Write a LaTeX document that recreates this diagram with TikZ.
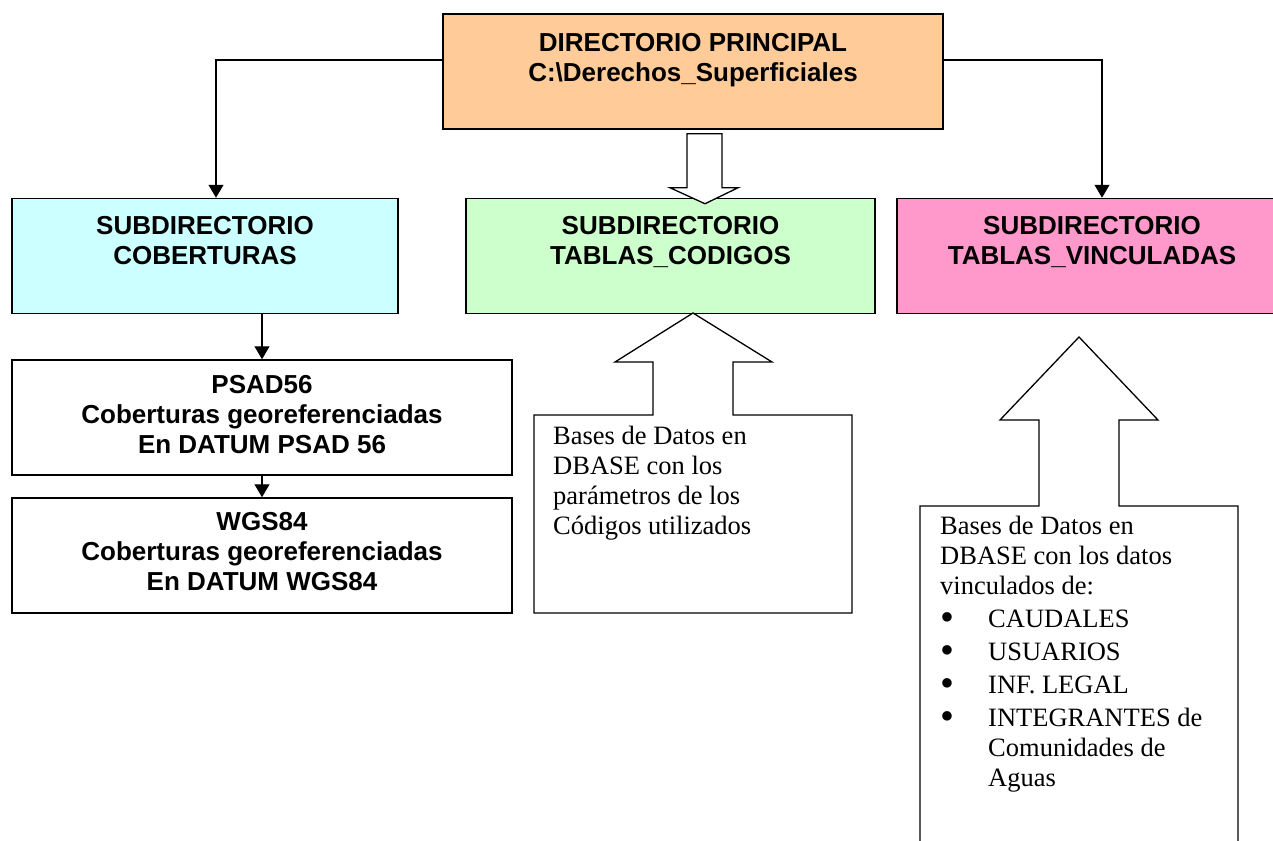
\documentclass[tikz,border=0pt]{standalone}
\usepackage{fontspec}
\setmainfont{Liberation Serif}
\setsansfont{Liberation Sans}
\usepackage{xcolor}
\definecolor{peach-200}{RGB}{255,204,153}
\definecolor{cyan-100}{RGB}{204,255,255}
\definecolor{green-100}{RGB}{204,255,204}
\definecolor{pink-300}{RGB}{255,153,204}
\usetikzlibrary{arrows.meta}
\newcommand{\listdot}{\makebox[48pt][l]{\raisebox{-3pt}{\scalebox{1.5}{\textbullet}}}}

\begin{document}
\begin{tikzpicture}[
    x=1pt, y=-1pt,
    every node/.style={inner sep=0pt},
    dirbox/.style={draw=black, line width=1.5pt, minimum width=#1, minimum height=115pt},
    dirlabel/.style={font=\sffamily\bfseries\fontsize{26}{30}\selectfont, align=center, anchor=north},
    notelabel/.style={font=\fontsize{26.5}{30}\selectfont, align=left, anchor=north west},
    link/.style={line width=1.2pt, -{Triangle[length=13pt,width=15pt]}},
    hollow/.style={draw=black, fill=white, line width=1.3pt, line join=miter}
]

\useasboundingbox (0,0) rectangle (1273,840);

% Main directory
\node[dirbox=500pt, fill=peach-200] (main) at (693,71.5) {};
\node[dirlabel] (main-txt) at ([yshift=-20pt]main.north)
    {DIRECTORIO PRINCIPAL\\C:\textbackslash Derechos\_Superficiales};

% Subdirectories
\node[dirbox=386pt, fill=cyan-100] (cober) at (205,256) {};
\node[dirlabel] (cober-txt) at ([yshift=-18pt]cober.north) {SUBDIRECTORIO\\COBERTURAS};

\node[dirbox=409pt, fill=green-100] (codigos) at (670.5,256) {};
\node[dirlabel] (codigos-txt) at ([yshift=-18pt]codigos.north) {SUBDIRECTORIO\\TABLAS\_CODIGOS};

\node[dirbox=390pt, fill=pink-300] (vincul) at (1092,256) {};
\node[dirlabel] (vincul-txt) at ([yshift=-18pt]vincul.north) {SUBDIRECTORIO\\TABLAS\_VINCULADAS};

% Coverage folders
\node[dirbox=500pt] (psad) at (262,417.5) {};
\node[dirlabel] (psad-txt) at ([yshift=-16pt]psad.north)
    {PSAD56\\Coberturas georeferenciadas\\En DATUM PSAD 56};

\node[dirbox=500pt] (wgs) at (262,555.5) {};
\node[dirlabel] (wgs-txt) at ([yshift=-15pt]wgs.north)
    {WGS84\\Coberturas georeferenciadas\\En DATUM WGS84};

% Connectors
\draw[link] ([yshift=11.5pt]main.west) -| ([xshift=11pt]cober.north);
\draw[link] ([yshift=11.5pt]main.east) -| ([xshift=10pt]vincul.north);
\draw[link] (cober.south -| psad.north) -- (psad.north);
\draw[link] (psad.south) -- (wgs.north);

% Block arrow to the codes table
\draw[hollow] ([xshift=-6pt,yshift=-4pt]main.south) -- ++(35,0) -- ++(0,54) -- ++(16,0)
    -- ++(-33,16) -- ++(-35,-16) -- ++(17,0) -- cycle;

% Callout: codes table
\draw[hollow] (534,613) -- (534,415) -- (653,415) -- (653,362) -- (615,362) -- (693,313)
    -- (772,362) -- (733,362) -- (733,415) -- (852,415) -- (852,613) -- cycle;
\node[notelabel] (codigos-note) at (553,426)
    {Bases de Datos en\\DBASE con los\\parámetros de los\\Códigos utilizados};

% Callout: linked tables
\draw[hollow] (920,850) -- (920,506) -- (1039,506) -- (1039,420) -- (1000,420) -- (1079,337)
    -- (1158,420) -- (1119,420) -- (1119,506) -- (1238,506) -- (1238,850) -- cycle;
\node[notelabel] (vincul-note) at (940,516) {
Bases de Datos en\\
DBASE con los datos\\
vinculados de:\\[3pt]
\listdot CAUDALES\\[3pt]
\listdot USUARIOS\\[3pt]
\listdot INF. LEGAL\\[3pt]
\listdot INTEGRANTES de\\
\hspace*{48pt}Comunidades de\\
\hspace*{48pt}Aguas
};

\end{tikzpicture}
\end{document}
